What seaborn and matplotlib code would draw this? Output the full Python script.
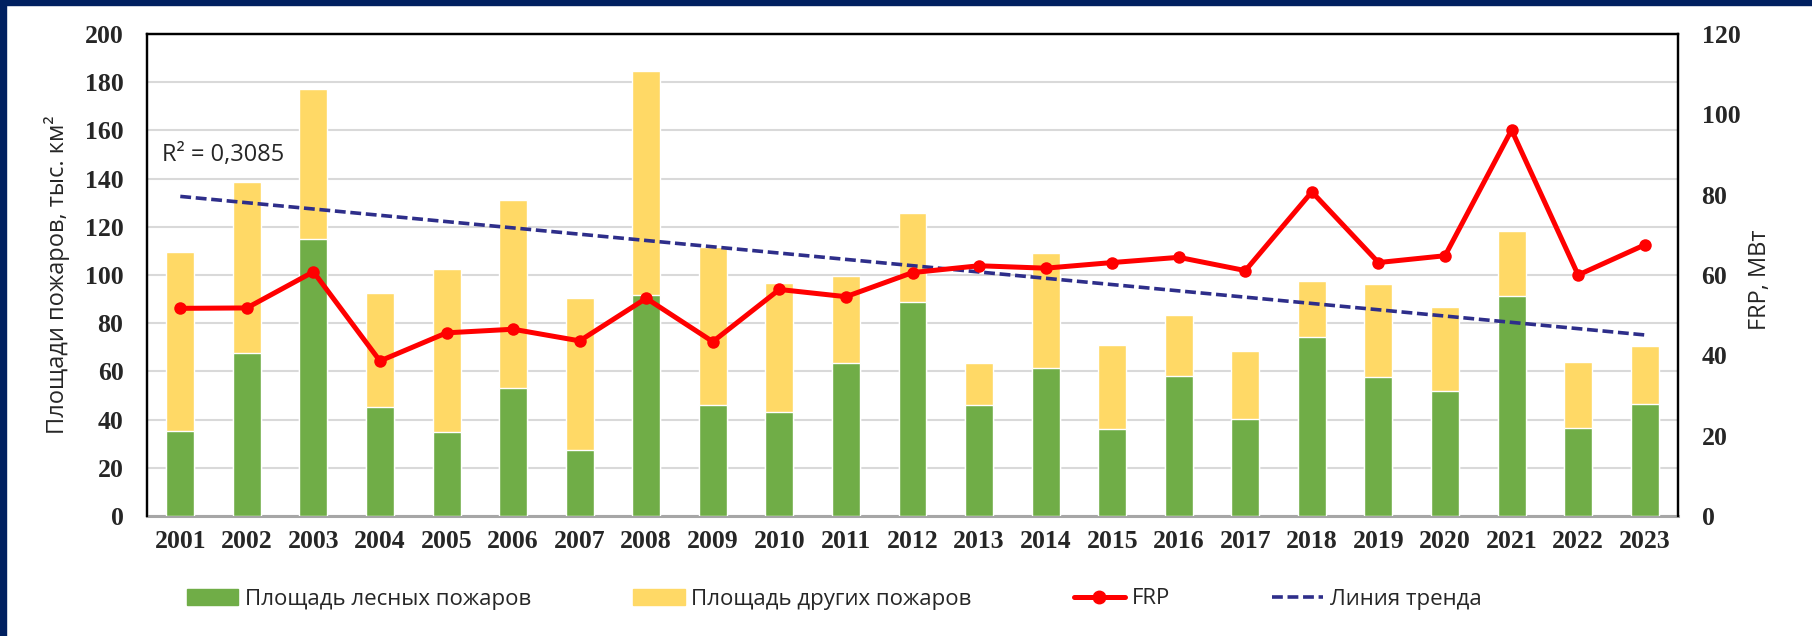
import numpy as np
import pandas as pd
import matplotlib
matplotlib.use('Agg')
import matplotlib.pyplot as plt
from matplotlib.patches import Patch, Rectangle
from matplotlib.lines import Line2D
import seaborn as sns

years = [str(y) for y in range(2001, 2024)]
forest_area = [35.4, 67.5, 114.9, 45.1, 34.7, 53.2, 27.4, 91.8, 46.1, 43.3, 63.6, 88.9,
               46.1, 61.4, 36.1, 58.1, 40.1, 74.4, 57.5, 51.7, 91.4, 36.4, 46.5]
total_area = [109.7, 138.5, 177.0, 92.7, 102.5, 131.1, 90.3, 184.6, 111.7, 96.5, 99.7, 125.9,
              63.6, 109.0, 71.0, 83.3, 68.5, 97.5, 96.3, 86.9, 118.3, 63.9, 70.5]
frp = [51.7, 51.8, 60.8, 38.6, 45.6, 46.5, 43.6, 54.2, 43.4, 56.4, 54.6, 60.6,
       62.3, 61.7, 63.1, 64.4, 61.1, 80.7, 63.1, 64.8, 96.1, 60.0, 67.5]
left_ticks = list(range(0, 201, 20))
right_ticks = list(range(0, 121, 20))

GREEN = '#70ad47'
YELLOW = '#ffd966'
RED = '#ff0000'
NAVY = '#2e2e8a'
BORDER = '#002060'
SANS = ['Open Sans', 'DejaVu Sans']
SERIF = 'Liberation Serif'


def main():
    sns.set_theme(style='white')
    plt.rcParams['font.family'] = SANS

    df = pd.DataFrame({'year': years, 'forest': forest_area, 'total': total_area, 'frp': frp})
    pos = np.arange(len(df))

    fig = plt.figure(figsize=(18.12, 6.36), dpi=100)
    ax = fig.add_axes([147 / 1812, 1 - 516 / 636, (1678 - 147) / 1812, (516 - 34) / 636])

    # stacked bars: total (yellow) behind, forest (green) in front
    sns.barplot(data=df, x='year', y='total', color=YELLOW, width=0.42, saturation=1,
                ax=ax, zorder=2)
    sns.barplot(data=df, x='year', y='forest', color=GREEN, width=0.42, saturation=1,
                ax=ax, zorder=3)

    # linear trend of total area
    k, b = np.polyfit(pos, df['total'], 1)
    ax.plot(pos, k * pos + b, color=NAVY, lw=2.6, dashes=(3, 1.3), zorder=4)
    ax.text(-0.28, 150, 'R² = 0,3085', fontsize=17, ha='left', va='center', zorder=5)

    ax.set_xlim(-0.5, len(df) - 0.5)
    ax.set_ylim(0, 200)
    ax.set_yticks(left_ticks)
    ax.grid(axis='y', color='#d9d9d9', lw=1.5)
    ax.set_axisbelow(True)
    ax.set_xlabel('')
    ax.set_ylabel('Площади пожаров, тыс. км²', fontsize=17)
    ax.yaxis.set_label_coords(-0.050, 0.5)
    ax.tick_params(axis='x', length=0, pad=10)
    ax.tick_params(axis='y', length=0, pad=17)
    for lab in ax.get_xticklabels() + ax.get_yticklabels():
        lab.set_fontfamily(SERIF)
        lab.set_fontweight('bold')
        lab.set_fontsize(18.5)
    for s in ['left', 'top', 'right']:
        ax.spines[s].set_color('black')
        ax.spines[s].set_linewidth(1.6)
    ax.spines['bottom'].set_color('#a6a6a6')
    ax.spines['bottom'].set_linewidth(2.2)

    ax2 = ax.twinx()
    sns.lineplot(x=pos, y=df['frp'], ax=ax2, color=RED, lw=3.6, marker='o',
                 markersize=9, markeredgewidth=0, zorder=6)
    ax2.set_ylim(0, 120)
    ax2.set_yticks(right_ticks)
    ax2.set_ylabel('FRP, МВт', fontsize=17)
    ax2.yaxis.set_label_coords(1.046, 0.49)
    ax2.tick_params(axis='y', length=0, pad=17)
    for lab in ax2.get_yticklabels():
        lab.set_fontfamily(SERIF)
        lab.set_fontweight('bold')
        lab.set_fontsize(18.5)
    for s in ['left', 'top', 'right']:
        ax2.spines[s].set_color('black')
        ax2.spines[s].set_linewidth(1.6)
    ax2.spines['bottom'].set_visible(False)

    handles = [
        Patch(color=GREEN),
        Patch(color=YELLOW),
        Line2D([], [], color=RED, lw=3.6, marker='o', markersize=9),
        Line2D([], [], color=NAVY, lw=2.6, dashes=(3, 1.3)),
    ]
    labels = ['Площадь лесных пожаров', 'Площадь других пожаров', 'FRP', 'Линия тренда']
    fig.legend(handles, labels, loc='center', bbox_to_anchor=(0.4605, 1 - 599 / 636),
               ncol=4, frameon=False, fontsize=16, handlelength=2.3, handletextpad=0.3,
               columnspacing=4.6)

    # dark frame on top and left edges
    fig.patches.append(Rectangle((0, 1 - 5 / 636), 1, 5 / 636, transform=fig.transFigure,
                                 color=BORDER, zorder=10))
    fig.patches.append(Rectangle((0, 0), 6 / 1812, 1, transform=fig.transFigure,
                                 color=BORDER, zorder=10))

    fig.savefig('out.png', dpi=100, facecolor='white')


if __name__ == '__main__':
    main()
